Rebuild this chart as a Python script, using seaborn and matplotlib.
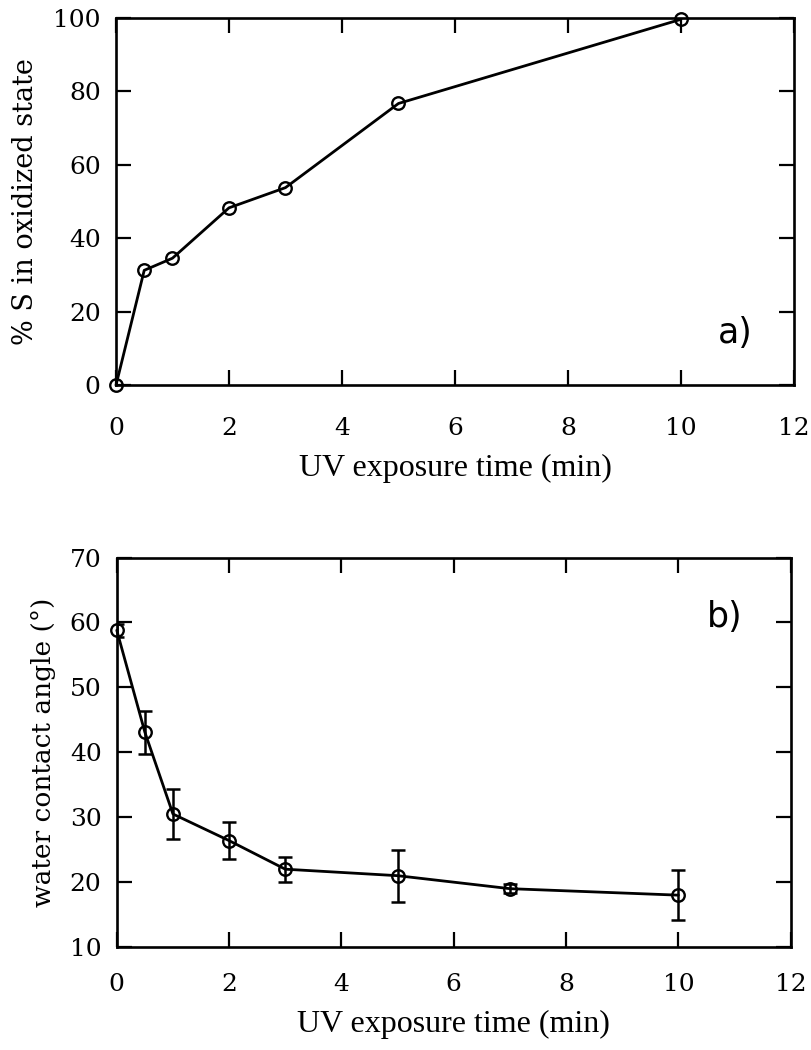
import pandas as pd
import matplotlib
matplotlib.use("Agg")
import matplotlib.pyplot as plt
import seaborn as sns

# data
time_a = [0, 0.5, 1, 2, 3, 5, 10]
oxidized = [0, 31.3, 34.6, 48.3, 53.8, 76.7, 99.6]

time_b = [0, 0.5, 1, 2, 3, 5, 7, 10]
angle = [58.8, 43.1, 30.5, 26.4, 22.0, 21.0, 19.0, 18.0]
angle_err = [1.0, 3.3, 3.9, 2.8, 1.9, 4.0, 0.7, 3.9]

x_ticks = [0, 2, 4, 6, 8, 10, 12]
y_ticks_a = [0, 20, 40, 60, 80, 100]
y_ticks_b = [10, 20, 30, 40, 50, 60, 70]

df_a = pd.DataFrame({"time": time_a, "pct": oxidized})
df_b = pd.DataFrame({"time": time_b, "angle": angle, "err": angle_err})

sns.set_style("ticks")
plt.rcParams["font.family"] = ["DejaVu Serif"]
plt.rcParams["text.color"] = "black"
plt.rcParams["axes.labelcolor"] = "black"

fig = plt.figure(figsize=(8.11, 10.5), dpi=100)
ax1 = fig.add_axes([0.143, 0.633, 0.836, 0.350])
ax2 = fig.add_axes([0.144, 0.098, 0.831, 0.371])

line_kw = dict(color="black", linewidth=2.0, marker="o", markersize=9,
               markerfacecolor="none", markeredgecolor="black",
               markeredgewidth=1.7)

# a) sulfur oxidation
sns.lineplot(data=df_a, x="time", y="pct", ax=ax1, clip_on=False, **line_kw)

# b) contact angle with error bars
ax2.errorbar(df_b["time"], df_b["angle"], yerr=df_b["err"], fmt="none",
             ecolor="black", elinewidth=1.8, capsize=5, capthick=1.8)
sns.lineplot(data=df_b, x="time", y="angle", ax=ax2, clip_on=False, **line_kw)

for ax, yt, xpad in [(ax1, y_ticks_a, 23), (ax2, y_ticks_b, 19)]:
    ax.set_xlim(0, 12)
    ax.set_ylim(yt[0], yt[-1])
    ax.set_xticks(x_ticks)
    ax.set_yticks(yt)
    ax.tick_params(direction="in", length=11, width=1.6, top=True, right=True,
                   labelsize=18, colors="black")
    ax.tick_params(axis="x", pad=xpad)
    ax.tick_params(axis="y", pad=11)
    for s in ax.spines.values():
        s.set_linewidth(1.9)
        s.set_color("black")
    ax.set_xlabel("UV exposure time (min)", fontsize=23,
                  family="Liberation Serif", labelpad=10)

ax1.set_ylabel("% S in oxidized state", fontsize=19.5, labelpad=10)
ax2.set_ylabel("water contact angle (°)", fontsize=19, labelpad=10)

ax1.text(0.913, 0.142, "a)", transform=ax1.transAxes, fontsize=25,
         family="DejaVu Sans", ha="center", va="center", color="black")
ax2.text(0.902, 0.848, "b)", transform=ax2.transAxes, fontsize=25,
         family="DejaVu Sans", ha="center", va="center", color="black")

fig.savefig("out.png", dpi=100)
